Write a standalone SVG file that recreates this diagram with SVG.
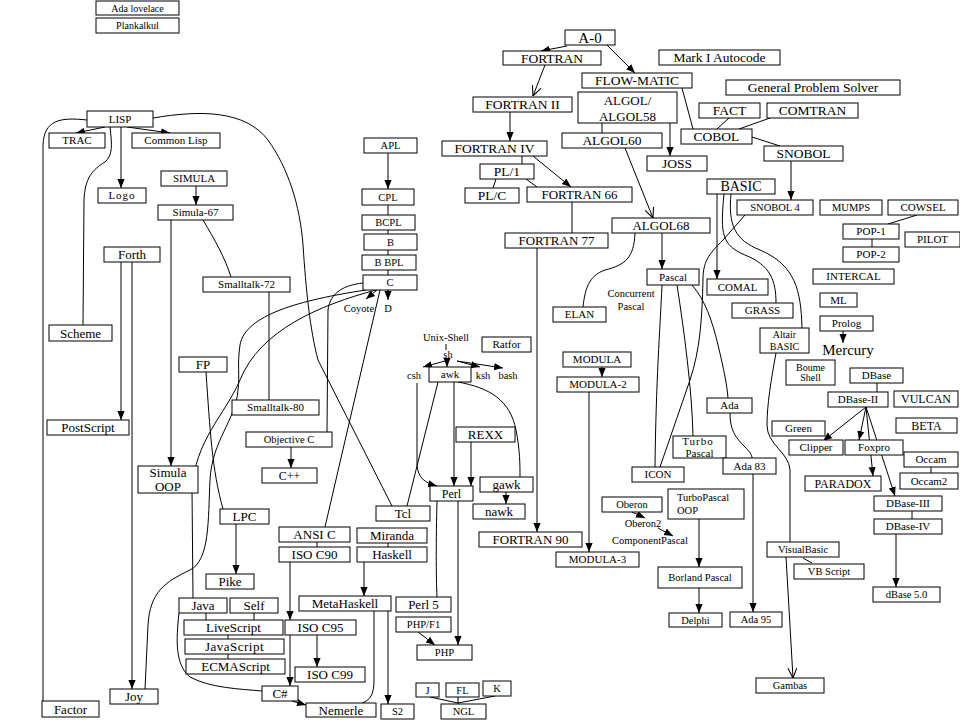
<svg xmlns="http://www.w3.org/2000/svg" width="960" height="720" viewBox="0 0 960 720">
<style>
rect{fill:#fff;stroke:#000;stroke-width:1}
text{font-family:"Liberation Serif","Times New Roman",serif;text-anchor:middle;fill:#000}
.s10{font-size:10px}.s105{font-size:10.5px}.s11{font-size:11px}.s12{font-size:12px}.s13{font-size:13px}.s135{font-size:13.5px}.s14{font-size:14px}.s15{font-size:15px}
.lf{text-anchor:start}
#connectors path{fill:none;stroke:#000;stroke-width:1}
.a{marker-end:url(#arr)}
.o{marker-end:url(#open)}
</style>
<defs>
<marker id="arr" markerUnits="userSpaceOnUse" markerWidth="9" markerHeight="9" viewBox="0 0 10 10" refX="10" refY="5" orient="auto"><path d="M0,1 L10,5 L0,9 z" fill="#000"/></marker>
<marker id="open" markerUnits="userSpaceOnUse" markerWidth="10" markerHeight="10" viewBox="0 0 10 10" refX="10" refY="5" orient="auto"><path d="M0,0.5 L10,5 L0,9.5" fill="none" stroke="#000" stroke-width="1.1"/></marker>
</defs>
<rect x="0" y="0" width="960" height="720" style="stroke:none;fill:#fff"/>
<g id="connectors">
<path class="a" d="M105,127 L76,133"/>
<path class="a" d="M127,127 L170,133"/>
<path class="a" d="M121,127 L121,188"/>
<path d="M87,120 C60,117 44,120 43,145 L43,701"/>
<path d="M110,127 C112,145 113,155 105,162 C92,170 85,178 84,200 L83,325"/>
<path d="M153,118 C200,110 245,110 268,140 C288,168 300,205 303,245 C306,290 310,330 318,360 L392,506"/>
<path class="a" d="M196,186 L196,205"/>
<path class="a" d="M171,220 L171,466"/>
<path d="M203,220 C215,240 225,258 231,277"/>
<path d="M269,292 L269,400"/>
<path class="a" d="M121,262 L121,420"/>
<path class="a" d="M132,262 L132,689"/>
<path d="M206,372 C210,430 212,470 223,509"/>
<path class="a" d="M236,524 L236,574"/>
<path d="M376,290 C320,305 260,330 240,380 C225,415 195,440 192,490 L193,598"/>
<path d="M366,290 C300,300 245,315 240,345 C237,365 240,375 238,390 C236,420 212,440 210,480 C208,520 210,560 190,570 C165,582 150,592 148,625 L145,689"/>
<path d="M206,613 L206,620"/>
<path d="M254,613 L254,620"/>
<path d="M228,635 L228,639"/>
<path d="M228,654 L228,659"/>
<path d="M179,613 C176,640 175,665 190,677 C210,688 240,689 262,691"/>
<path class="a" d="M292,701 L306,705"/>
<path d="M363,283 C345,285 330,292 328,310 L327,432"/>
<path class="a" d="M291,447 L291,468"/>
<path d="M380,290 L325,527"/>
<path d="M317,542 L317,547"/>
<path class="a" d="M290,562 L290,620"/>
<path class="a" d="M290,635 L290,686"/>
<path class="a" d="M317,635 L317,667"/>
<path d="M388,543 L388,547"/>
<path class="a" d="M364,562 L364,596"/>
<path d="M374,611 L374,680 C374,695 370,700 362,703"/>
<path class="a" d="M388,611 L388,704"/>
<path class="a" d="M388,153 L388,189"/>
<path d="M388,205 L388,215 M388,230 L388,234 M388,250 L388,255 M388,270 L388,275"/>
<path class="a" d="M377,290 L366,299"/>
<path class="a" d="M388,290 L388,300"/>
<path d="M446,344 L446,350"/>
<path class="a" d="M445,361 L423,367"/>
<path class="a" d="M447,359 L447,367"/>
<path class="a" d="M457,361 L480,367"/>
<path class="a" d="M457,361 L503,368"/>
<path class="a" d="M417,383 L417,465 C418,478 425,483 437,486"/>
<path class="a" d="M454,382 L454,486"/>
<path class="a" d="M471,442 L471,486"/>
<path d="M458,382 C490,388 510,400 516,430 C520,450 520,465 520,477"/>
<path d="M438,382 L407,506"/>
<path class="a" d="M506,492 L506,504"/>
<path d="M437,501 C436,540 436,575 437,597"/>
<path class="a" d="M458,501 L458,645"/>
<path class="a" d="M418,632 L435,645"/>
<path d="M430,697 L458,703 M458,697 L458,704 M495,696 L458,703"/>
<path class="a" d="M567,46 L541,51"/>
<path class="a" d="M607,45 L635,73"/>
<path class="o" d="M545,65 L533,96"/>
<path class="a" d="M510,112 L510,141"/>
<path d="M522,156 L522,164"/>
<path d="M496,179 L493,188"/>
<path d="M526,179 L537,187"/>
<path class="a" d="M533,156 L571,187"/>
<path d="M572,202 L572,233"/>
<path class="a" d="M537,248 L537,532"/>
<path d="M602,123 L602,133"/>
<path class="a" d="M670,123 L670,156"/>
<path class="o" d="M625,148 L653,218"/>
<path class="a" d="M662,233 L662,269"/>
<path d="M635,233 C634,258 625,265 605,270 C588,276 585,290 583,307"/>
<path d="M682,88 L693,129"/>
<path d="M729,118 L717,129"/>
<path d="M770,118 L739,129"/>
<path d="M752,137 L780,146"/>
<path class="a" d="M791,161 L791,200"/>
<path class="a" d="M717,194 L717,279"/>
<path d="M724,194 C720,235 722,245 745,255 C770,265 776,280 776,303"/>
<path d="M731,194 C728,225 735,240 760,250 C795,265 801,290 802,328"/>
<path d="M745,215 L723,240 C708,255 703,262 703,280 C702,320 700,350 690,380 L660,467"/>
<path d="M917,215 L888,224"/>
<path d="M872,239 L872,247"/>
<path class="a" d="M843,331 L843,343"/>
<path d="M877,383 L877,392"/>
<path class="a" d="M866,407 L823,441"/>
<path class="a" d="M866,407 L859,440"/>
<path class="a" d="M866,407 L873,476"/>
<path class="a" d="M866,407 L895,496"/>
<path d="M912,511 L912,519"/>
<path d="M931,467 L931,473"/>
<path class="a" d="M896,534 L896,587"/>
<path d="M662,285 C660,330 656,380 655,467"/>
<path d="M677,285 C684,330 692,390 693,436"/>
<path d="M692,285 C705,300 712,320 718,345 C724,370 727,385 728,398"/>
<path d="M730,413 C730,430 735,437 745,447 C750,452 752,455 752,458"/>
<path class="a" d="M753,474 L753,612"/>
<path class="a" d="M602,367 L602,377"/>
<path class="a" d="M589,392 L589,552"/>
<path class="a" d="M632,512 L645,518"/>
<path class="a" d="M658,528 L673,536"/>
<path class="a" d="M699,519 L699,567"/>
<path class="a" d="M699,588 L699,613"/>
<path d="M776,353 C771,380 767,405 767,425 C767,445 789,452 790,470 L790,542"/>
<path d="M803,558 L812,563"/>
<path class="o" d="M786,557 L793,678"/>
</g>
<g id="ada-lovelace"><rect x="96" y="1" width="83" height="14"/><text class="s10" x="137.5" y="11.5">Ada lovelace</text></g>
<g id="plankalkul"><rect x="96" y="18" width="83" height="15"/><text class="s10" x="137.5" y="29">Plankalkul</text></g>
<g id="lisp"><rect x="87" y="111" width="66" height="16"/><text class="s11" x="120" y="122.8">LISP</text></g>
<g id="trac"><rect x="49" y="133" width="56" height="15"/><text class="s11" x="77" y="144.3">TRAC</text></g>
<g id="common-lisp"><rect x="132" y="133" width="88" height="15"/><text class="s11" x="176" y="144.3">Common Lisp</text></g>
<g id="simula"><rect x="161" y="171" width="66" height="15"/><text class="s11" x="194" y="182.3">SIMULA</text></g>
<g id="logo"><rect x="98" y="188" width="48" height="15"/><text class="s11" x="122" y="199.3" letter-spacing="1">Logo</text></g>
<g id="simula-67"><rect x="158" y="205" width="75" height="15"/><text class="s11" x="195.5" y="216.3">Simula-67</text></g>
<g id="forth"><rect x="104" y="247" width="56" height="15"/><text class="s13" x="132" y="259">Forth</text></g>
<g id="smalltalk-72"><rect x="203" y="277" width="87" height="15"/><text class="s11" x="246.5" y="288.3">Smalltalk-72</text></g>
<g id="scheme"><rect x="49" y="325" width="63" height="16"/><text class="s13" x="80.5" y="337.5">Scheme</text></g>
<g id="fp"><rect x="179" y="357" width="48" height="15"/><text class="s13" x="203" y="369">FP</text></g>
<g id="smalltalk-80"><rect x="232" y="400" width="87" height="15"/><text class="s11" x="275.5" y="411.3">Smalltalk-80</text></g>
<g id="postscript"><rect x="47" y="420" width="82" height="15"/><text class="s13" x="88" y="432">PostScript</text></g>
<g id="objective-c"><rect x="246" y="432" width="86" height="15"/><text class="s105" x="289" y="443.2">Objective C</text></g>
<g id="simula-oop"><rect x="138" y="466" width="60" height="27"/><text class="s13" x="168" y="476.5">Simula</text><text class="s13" x="168" y="491">OOP</text></g>
<g id="cpp"><rect x="262" y="468" width="55" height="15"/><text class="s12" x="289.5" y="479.7">C++</text></g>
<g id="lpc"><rect x="220" y="509" width="49" height="15"/><text class="s13" x="244.5" y="521">LPC</text></g>
<g id="pike"><rect x="206" y="574" width="48" height="15"/><text class="s13" x="230" y="586">Pike</text></g>
<g id="java"><rect x="179" y="598" width="48" height="15"/><text class="s13" x="203" y="610">Java</text></g>
<g id="self"><rect x="230" y="598" width="48" height="15"/><text class="s13" x="254" y="610">Self</text></g>
<g id="livescript"><rect x="184" y="620" width="99" height="15"/><text class="s13" x="233.5" y="632">LiveScript</text></g>
<g id="javascript"><rect x="185" y="639" width="99" height="15"/><text class="s13" x="234.5" y="651" letter-spacing="0.5">JavaScript</text></g>
<g id="ecmascript"><rect x="186" y="659" width="99" height="15"/><text class="s13" x="235.5" y="671">ECMAScript</text></g>
<g id="joy"><rect x="110" y="689" width="48" height="15"/><text class="s13" x="134" y="701">Joy</text></g>
<g id="factor"><rect x="42" y="701" width="57" height="16"/><text class="s13" x="70.5" y="713.5">Factor</text></g>
<g id="csharp"><rect x="262" y="686" width="36" height="15"/><text class="s13" x="280" y="698">C#</text></g>
<g id="nemerle"><rect x="306" y="703" width="70" height="14"/><text class="s13" x="341" y="714.5">Nemerle</text></g>
<g id="ansi-c"><rect x="279" y="527" width="71" height="15"/><text class="s13" x="314.5" y="539">ANSI C</text></g>
<g id="iso-c90"><rect x="279" y="547" width="71" height="15"/><text class="s13" x="314.5" y="559">ISO C90</text></g>
<g id="iso-c95"><rect x="285" y="620" width="71" height="15"/><text class="s13" x="320.5" y="632">ISO C95</text></g>
<g id="iso-c99"><rect x="295" y="667" width="70" height="15"/><text class="s13" x="330" y="679">ISO C99</text></g>
<g id="metahaskell"><rect x="299" y="596" width="92" height="15"/><text class="s13" x="345" y="608">MetaHaskell</text></g>
<g id="miranda"><rect x="357" y="528" width="70" height="15"/><text class="s13" x="392" y="540">Miranda</text></g>
<g id="haskell"><rect x="357" y="547" width="70" height="15"/><text class="s13" x="392" y="559">Haskell</text></g>
<g id="tcl"><rect x="376" y="506" width="54" height="15"/><text class="s13" x="403" y="518">Tcl</text></g>
<g id="perl"><rect x="430" y="486" width="43" height="15"/><text class="s12" x="451.5" y="497.7">Perl</text></g>
<g id="perl5"><rect x="396" y="597" width="55" height="15"/><text class="s13" x="423.5" y="609">Perl 5</text></g>
<g id="php-fi"><rect x="396" y="617" width="55" height="15"/><text class="s105" x="423.5" y="628.2">PHP/F1</text></g>
<g id="php"><rect x="417" y="645" width="55" height="15"/><text class="s105" x="444.5" y="656.2">PHP</text></g>
<g id="s2"><rect x="381" y="704" width="33" height="15"/><text class="s105" x="397.5" y="715.2">S2</text></g>
<g id="j"><rect x="416" y="683" width="23" height="14"/><text class="s105" x="427.5" y="693.7">J</text></g>
<g id="fl"><rect x="446" y="683" width="33" height="14"/><text class="s105" x="462.5" y="693.7">FL</text></g>
<g id="k"><rect x="483" y="681" width="28" height="15"/><text class="s105" x="497" y="692.2">K</text></g>
<g id="ngl"><rect x="441" y="704" width="45" height="15"/><text class="s105" x="463.5" y="715.2">NGL</text></g>
<g id="gawk"><rect x="480" y="477" width="53" height="15"/><text class="s13" x="506.5" y="489">gawk</text></g>
<g id="nawk"><rect x="473" y="504" width="52" height="15"/><text class="s13" x="499" y="516">nawk</text></g>
<g id="rexx"><rect x="456" y="427" width="59" height="15"/><text class="s13" x="485.5" y="439">REXX</text></g>
<g id="awk"><rect x="429" y="367" width="42" height="15"/><text class="s11" x="450" y="378.3">awk</text></g>
<g id="ratfor"><rect x="482" y="337" width="49" height="15"/><text class="s11" x="506.5" y="348.3">Ratfor</text></g>
<g id="fortran90"><rect x="479" y="532" width="103" height="15"/><text class="s13" x="530.5" y="544">FORTRAN 90</text></g>
<g id="modula3"><rect x="556" y="552" width="83" height="15"/><text class="s11" x="597.5" y="563.3">MODULA-3</text></g>
<g id="modula"><rect x="563" y="352" width="68" height="15"/><text class="s11" x="597" y="363.3">MODULA</text></g>
<g id="modula2"><rect x="557" y="377" width="82" height="15"/><text class="s11" x="598" y="388.3">MODULA-2</text></g>
<g id="elan"><rect x="553" y="307" width="53" height="15"/><text class="s11" x="579.5" y="318.3">ELAN</text></g>
<g id="apl"><rect x="364" y="138" width="53" height="15"/><text class="s105" x="390.5" y="149.2">APL</text></g>
<g id="cpl"><rect x="362" y="189" width="52" height="16"/><text class="s105" x="388" y="200.7">CPL</text></g>
<g id="bcpl"><rect x="362" y="215" width="53" height="15"/><text class="s105" x="388.5" y="226.2">BCPL</text></g>
<g id="b"><rect x="364" y="234" width="53" height="16"/><text class="s105" x="390.5" y="245.7">B</text></g>
<g id="bbpl"><rect x="362" y="255" width="54" height="15"/><text class="s105" x="389" y="266.2">B BPL</text></g>
<g id="c"><rect x="363" y="275" width="54" height="15"/><text class="s105" x="390" y="286.2">C</text></g>
<g id="coyote"><text class="s105" x="359" y="311.8">Coyote</text></g>
<g id="d"><text class="s105" x="388" y="311.5">D</text></g>
<g id="unix-shell"><text class="s105" x="446" y="340.8">Unix-Shell</text></g>
<g id="sh"><text class="s105" x="448" y="357.8">sh</text></g>
<g id="csh"><text class="s105" x="414" y="378.8">csh</text></g>
<g id="ksh"><text class="s105" x="483" y="378.8">ksh</text></g>
<g id="bash"><text class="s105" x="508" y="378.8">bash</text></g>
<g id="a0"><rect x="565" y="30" width="50" height="15"/><text class="s15" x="590" y="42.8">A-0</text></g>
<g id="fortran"><rect x="503" y="51" width="98" height="14"/><text class="s135" x="552" y="62.7">FORTRAN</text></g>
<g id="mark-i-autocode"><rect x="659" y="50" width="121" height="15"/><text class="s135" x="719.5" y="62.2">Mark I Autocode</text></g>
<g id="flow-matic"><rect x="582" y="73" width="110" height="15"/><text class="s135" x="637" y="85.2">FLOW-MATIC</text></g>
<g id="gps"><rect x="726" y="80" width="174" height="15"/><text class="s135" x="813" y="92.2">General Problem Solver</text></g>
<g id="algol58"><rect x="578" y="92" width="99" height="31"/><text class="s13" x="627.5" y="104.5">ALGOL/</text><text class="s13" x="627.5" y="120.5">ALGOL58</text></g>
<g id="fortran2"><rect x="473" y="97" width="99" height="15"/><text class="s135" x="522.5" y="109.2">FORTRAN II</text></g>
<g id="fact"><rect x="699" y="103" width="61" height="15"/><text class="s135" x="729.5" y="115.2">FACT</text></g>
<g id="comtran"><rect x="767" y="103" width="91" height="15"/><text class="s135" x="812.5" y="115.2">COMTRAN</text></g>
<g id="cobol"><rect x="681" y="129" width="71" height="15"/><text class="s135" x="716.5" y="141.2">COBOL</text></g>
<g id="algol60"><rect x="562" y="133" width="100" height="15"/><text class="s135" x="612" y="145.2">ALGOL60</text></g>
<g id="fortran4"><rect x="442" y="141" width="105" height="15"/><text class="s135" x="494.5" y="153.2">FORTRAN IV</text></g>
<g id="snobol"><rect x="764" y="146" width="79" height="15"/><text class="s135" x="803.5" y="158.2">SNOBOL</text></g>
<g id="joss"><rect x="647" y="156" width="60" height="15"/><text class="s135" x="677" y="168.2">JOSS</text></g>
<g id="pl1"><rect x="480" y="164" width="54" height="15"/><text class="s135" x="507" y="176.2">PL/1</text></g>
<g id="basic"><rect x="707" y="179" width="68" height="15"/><text class="s14" x="741" y="191.4">BASIC</text></g>
<g id="plc"><rect x="465" y="188" width="54" height="15"/><text class="s135" x="492" y="200.2">PL/C</text></g>
<g id="fortran66"><rect x="527" y="187" width="105" height="15"/><text class="s13" x="579.5" y="199">FORTRAN 66</text></g>
<g id="snobol4"><rect x="737" y="200" width="76" height="15"/><text class="s105" x="775" y="211.2">SNOBOL 4</text></g>
<g id="mumps"><rect x="820" y="200" width="62" height="15"/><text class="s105" x="851" y="211.2">MUMPS</text></g>
<g id="cowsel"><rect x="888" y="200" width="70" height="15"/><text class="s11" x="923" y="211.3">COWSEL</text></g>
<g id="algol68"><rect x="612" y="218" width="98" height="15"/><text class="s13" x="661" y="230">ALGOL68</text></g>
<g id="pop1"><rect x="843" y="224" width="56" height="15"/><text class="s11" x="871" y="235.3">POP-1</text></g>
<g id="fortran77"><rect x="505" y="233" width="103" height="15"/><text class="s13" x="556.5" y="245">FORTRAN 77</text></g>
<g id="pilot"><rect x="905" y="232" width="55" height="15"/><text class="s11" x="932.5" y="243.3">PILOT</text></g>
<g id="pop2"><rect x="843" y="247" width="56" height="15"/><text class="s11" x="871" y="258.3">POP-2</text></g>
<g id="intercal"><rect x="813" y="269" width="81" height="15"/><text class="s11" x="853.5" y="280.3">INTERCAL</text></g>
<g id="pascal"><rect x="647" y="269" width="52" height="16"/><text class="s11" x="673" y="280.8">Pascal</text></g>
<g id="comal"><rect x="707" y="279" width="61" height="16"/><text class="s11" x="737.5" y="290.8">COMAL</text></g>
<g id="ml"><rect x="820" y="293" width="37" height="14"/><text class="s11" x="838.5" y="303.8">ML</text></g>
<g id="grass"><rect x="732" y="303" width="61" height="15"/><text class="s11" x="762.5" y="314.3">GRASS</text></g>
<g id="prolog"><rect x="820" y="316" width="53" height="15"/><text class="s11" x="846.5" y="327.3">Prolog</text></g>
<g id="concurrent-pascal"><text class="s105" x="631" y="296.5">Concurrent</text><text class="s105" x="631" y="310">Pascal</text></g>
<g id="altair-basic"><rect x="760" y="328" width="49" height="25"/><text class="s10" x="784.5" y="337.5">Altair</text><text class="s10" x="784.5" y="349.5">BASIC</text></g>
<g id="mercury"><text class="s15" x="848" y="355">Mercury</text></g>
<g id="bourne-shell"><rect x="786" y="360" width="49" height="25"/><text class="s10" x="810.5" y="370.5">Boume</text><text class="s10" x="810.5" y="381">Shell</text></g>
<g id="dbase"><rect x="850" y="368" width="53" height="15"/><text class="s11" x="876.5" y="379.3">DBase</text></g>
<g id="dbase2"><rect x="828" y="392" width="60" height="15"/><text class="s11" x="858" y="403.3">DBase-II</text></g>
<g id="vulcan"><rect x="894" y="391" width="64" height="16"/><text class="s12" x="926" y="403.2">VULCAN</text></g>
<g id="beta"><rect x="896" y="418" width="61" height="15"/><text class="s12" x="926.5" y="429.7">BETA</text></g>
<g id="green"><rect x="772" y="421" width="53" height="15"/><text class="s11" x="798.5" y="432.3">Green</text></g>
<g id="clipper"><rect x="789" y="440" width="54" height="15"/><text class="s11" x="816" y="451.3">Clipper</text></g>
<g id="foxpro"><rect x="845" y="440" width="58" height="15"/><text class="s11" x="874" y="451.3">Foxpro</text></g>
<g id="occam"><rect x="904" y="452" width="54" height="15"/><text class="s11" x="931" y="463.3">Occam</text></g>
<g id="occam2"><rect x="900" y="473" width="58" height="16"/><text class="s11" x="929" y="484.8">Occam2</text></g>
<g id="paradox"><rect x="805" y="476" width="76" height="15"/><text class="s12" x="843" y="487.7">PARADOX</text></g>
<g id="dbase3"><rect x="874" y="496" width="68" height="15"/><text class="s11" x="908" y="507.3">DBase-III</text></g>
<g id="dbase4"><rect x="874" y="519" width="68" height="15"/><text class="s11" x="908" y="530.3">DBase-IV</text></g>
<g id="dbase5"><rect x="873" y="587" width="67" height="15"/><text class="s105" x="906.5" y="598.2">dBase 5.0</text></g>
<g id="ada"><rect x="707" y="398" width="45" height="15"/><text class="s11" x="729.5" y="409.3">Ada</text></g>
<g id="turbo-pascal"><rect x="673" y="436" width="53" height="22"/><text class="s11" x="698" y="444.8" letter-spacing="1">Turbo</text><text class="s11" x="699.5" y="456.8">Pascal</text></g>
<g id="ada83"><rect x="723" y="458" width="53" height="16"/><text class="s11" x="749.5" y="469.8">Ada 83</text></g>
<g id="icon"><rect x="632" y="467" width="52" height="15"/><text class="s11" x="658" y="478.3">ICON</text></g>
<g id="oberon"><rect x="602" y="497" width="60" height="15"/><text class="s105" x="632" y="508.2">Oberon</text></g>
<g id="oberon2"><text class="s105" x="643" y="526.7">Oberon2</text></g>
<g id="componentpascal"><text class="s105" x="650" y="543.7">ComponentPascal</text></g>
<g id="turbopascal-oop"><rect x="668" y="489" width="76" height="30"/><text class="s105 lf" x="677" y="500.7">TurboPascal</text><text class="s105 lf" x="677" y="513.7">OOP</text></g>
<g id="borland-pascal"><rect x="658" y="567" width="84" height="21"/><text class="s105" x="700" y="581.2">Borland Pascal</text></g>
<g id="delphi"><rect x="669" y="613" width="53" height="14"/><text class="s105" x="695.5" y="623.7">Delphi</text></g>
<g id="ada95"><rect x="730" y="612" width="52" height="15"/><text class="s105" x="756" y="623.2">Ada 95</text></g>
<g id="visualbasic"><rect x="767" y="542" width="72" height="15"/><text class="s105" x="803" y="553.2">VisualBasic</text></g>
<g id="vb-script"><rect x="794" y="564" width="70" height="15"/><text class="s105" x="829" y="575.2">VB Script</text></g>
<g id="gambas"><rect x="756" y="678" width="68" height="15"/><text class="s105" x="790" y="689.2">Gambas</text></g>
</svg>
